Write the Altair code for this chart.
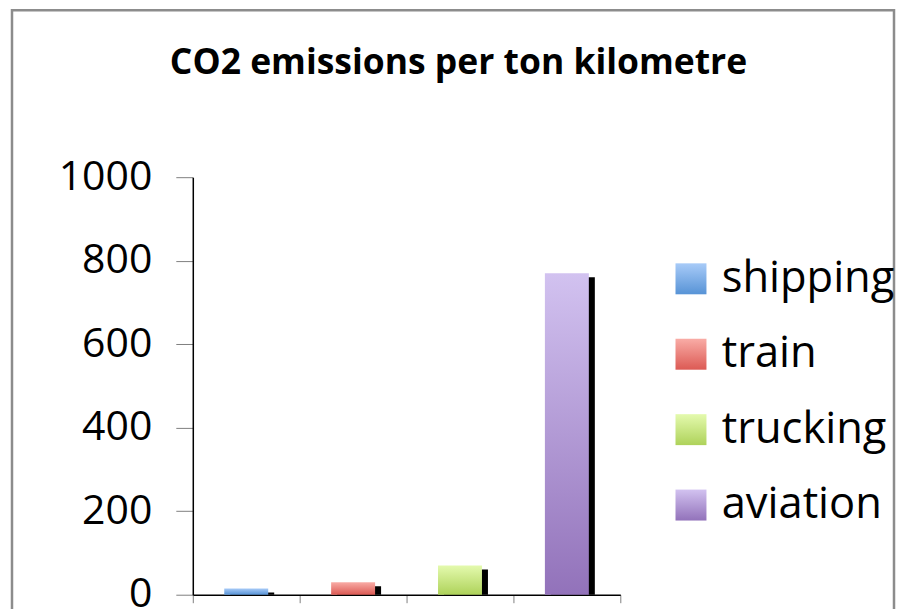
import altair as alt
import pandas as pd

categories = ["shipping", "train", "trucking", "aviation"]
values = [15, 30, 70, 770]
top_colors = ["#a8cbf8", "#f9aca6", "#e4faae", "#d2c2f0"]
bottom_colors = ["#5793d6", "#dc5a54", "#aed25a", "#9272ba"]
y_ticks = [0, 200, 400, 600, 800, 1000]
title_text = "CO2 emissions per ton kilometre"

df = pd.DataFrame({"mode": categories, "value": values})


def grad_expr(c0, c1):
    return alt.ExprRef(
        "{'gradient':'linear','x1':0.5,'y1':0,'x2':0.5,'y2':1,"
        f"'stops':[{{'offset':0,'color':'{c0}'}},{{'offset':1,'color':'{c1}'}}]}}"
    )


grad_range = [grad_expr(a, b) for a, b in zip(top_colors, bottom_colors)]

W, H = 428, 418

x_enc = alt.X(
    "mode:N",
    sort=categories,
    scale=alt.Scale(paddingInner=0, paddingOuter=0),
    axis=alt.Axis(
        labels=False,
        title=None,
        tickBand="extent",
        tickSize=8,
        tickColor="#808080",
        domainColor="#000000",
        domainWidth=1.5,
    ),
)
y_enc = alt.Y(
    "value:Q",
    scale=alt.Scale(domain=[0, 1000]),
    axis=alt.Axis(
        values=y_ticks,
        format="d",
        title=None,
        grid=False,
        tickSize=17,
        tickColor="#808080",
        domainColor="#000000",
        domainWidth=1.5,
        labelFont="Open Sans",
        labelFontSize=41,
        labelColor="#000000",
        labelPadding=24,
    ),
)

base = alt.Chart(df)

shadow = base.mark_bar(color="#000000", size=44, xOffset=6, yOffset=4).encode(
    x=x_enc, y=y_enc, y2=alt.datum(0)
)

bars = base.mark_bar(size=44).encode(
    x=x_enc,
    y=y_enc,
    color=alt.Color(
        "mode:N",
        scale=alt.Scale(domain=categories, range=grad_range),
        legend=alt.Legend(
            title=None,
            orient="none",
            legendX=477,
            legendY=80,
            symbolType="square",
            symbolSize=961,
            symbolStrokeWidth=0,
            labelFont="Open Sans",
            labelFontSize=43.5,
            labelColor="#000000",
            labelOffset=9,
            labelLimit=400,
            rowPadding=30.5,
        ),
    ),
)

border = alt.Chart(pd.DataFrame({"b": [0]})).mark_rect(
    filled=False, stroke="#8c8c8c", strokeWidth=2.5
).encode(
    x=alt.value(-181),
    x2=alt.value(702),
    y=alt.value(-167),
    y2=alt.value(480),
)

chart = alt.layer(border, shadow, bars).properties(
    width=W,
    height=H,
    padding={"left": 2, "top": 0, "right": 0, "bottom": 0},
    title=alt.TitleParams(
        title_text,
        font="Open Sans",
        fontSize=35.5,
        fontWeight="bold",
        color="#000000",
        baseline="alphabetic",
        offset=-100,
        dx=52,
    ),
).configure_view(stroke=None)

chart.save("out.html", embed_options={"renderer": "svg", "actions": False})
